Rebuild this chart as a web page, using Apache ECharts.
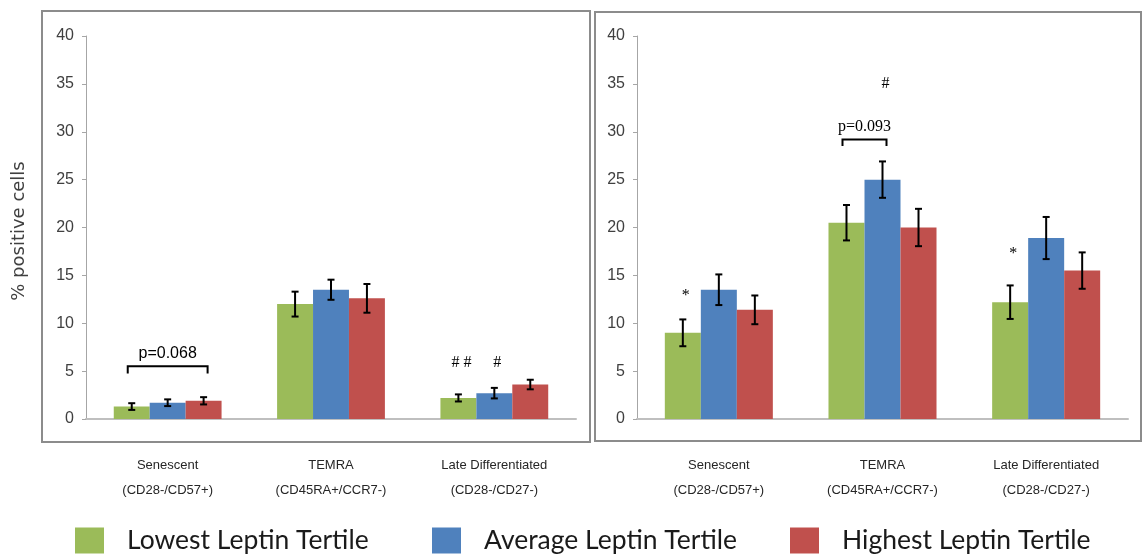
<!DOCTYPE html>
<html>
<head>
<meta charset="utf-8">
<script src="https://cdn.jsdelivr.net/npm/echarts@6/dist/echarts.min.js"></script>
<style>
html,body{margin:0;padding:0;background:#fff;}
#chart{width:1142px;height:556px;}
</style>
</head>
<body>
<div id="chart"></div>
<script>
// ---- data ----
const categories = ['Senescent\n(CD28-/CD57+)', 'TEMRA\n(CD45RA+/CCR7-)', 'Late Differentiated\n(CD28-/CD27-)'];
const seriesNames = ['Lowest Leptin Tertile', 'Average Leptin Tertile', 'Highest Leptin Tertile'];
const yTicks = [0, 5, 10, 15, 20, 25, 30, 35, 40];

// left panel
const leftLowest = [1.3, 12.0, 2.2];
const leftLowestErr = [0.35, 1.3, 0.37];
const leftAverage = [1.7, 13.5, 2.7];
const leftAverageErr = [0.35, 1.05, 0.55];
const leftHighest = [1.9, 12.6, 3.6];
const leftHighestErr = [0.38, 1.5, 0.5];

// right panel
const rightLowest = [9.0, 20.5, 12.2];
const rightLowestErr = [1.4, 1.85, 1.75];
const rightAverage = [13.5, 25.0, 18.9];
const rightAverageErr = [1.6, 1.9, 2.2];
const rightHighest = [11.4, 20.0, 15.5];
const rightHighestErr = [1.5, 1.95, 1.9];

// annotations: [categoryIndex, seriesIndex, y, text]
const leftMarks = [[2, 0, 5.9, '# #'], [2, 1, 5.9, '#']];
const rightMarks = [[0, 0, 12.9, '*'], [2, 0, 17.3, '*'], [1, 1, 35.0, '#']];
// brackets: [categoryIndex, fromSeries, toSeries, topY, legY, labelY, text]
const leftBrackets = [[0, 0, 2, 5.5, 4.75, 6.8, 'p=0.068']];
const rightBrackets = [[1, 0, 1, 29.2, 28.5, 30.5, 'p=0.093']];

// ---- styling ----
const colors = ['#9BBB59', '#4F81BD', '#C0504D'];
const CAT_GAP = 0.34;
const narrow = "'Liberation Sans', sans-serif";

function barOffset(api, s) {
  const band = api.size([1, 0])[0];
  const w = band * (1 - CAT_GAP) / 3;
  return (s - 1) * w;
}

function errRender(params, api) {
  const c = api.value(0), v = api.value(1), e = api.value(2), s = api.value(3);
  const cx = api.coord([c, v])[0] + barOffset(api, s);
  const yt = api.coord([c, v + e])[1];
  const yb = api.coord([c, v - e])[1];
  const cap = 3.5;
  const st = {stroke: '#000', lineWidth: 2};
  return {type: 'group', children: [
    {type: 'line', shape: {x1: cx, y1: yt, x2: cx, y2: yb}, style: st},
    {type: 'line', shape: {x1: cx - cap, y1: yt, x2: cx + cap, y2: yt}, style: st},
    {type: 'line', shape: {x1: cx - cap, y1: yb, x2: cx + cap, y2: yb}, style: st}
  ]};
}

function markSeries(gridIdx, marks, font, size) {
  return {
    type: 'custom', xAxisIndex: gridIdx, yAxisIndex: gridIdx, z: 10, silent: true,
    data: marks.map(m => [m[0], m[1], m[2]]),
    renderItem: function (params, api) {
      const m = marks[params.dataIndex];
      const p = api.coord([m[0], m[2]]);
      return {type: 'text', style: {
        text: m[3], x: p[0] + barOffset(api, m[1]) + 3, y: p[1],
        fill: '#000', fontFamily: font, fontSize: size,
        align: 'center', verticalAlign: 'middle', textAlign: 'center', textVerticalAlign: 'middle'
      }};
    }
  };
}

function bracketSeries(gridIdx, brackets, font, size) {
  return {
    type: 'custom', xAxisIndex: gridIdx, yAxisIndex: gridIdx, z: 10, silent: true,
    data: brackets.map(b => [b[0], b[3]]),
    renderItem: function (params, api) {
      const b = brackets[params.dataIndex];
      const cxp = api.coord([b[0], b[3]])[0];
      const x1 = cxp + barOffset(api, b[1]) - 4;
      const x2 = cxp + barOffset(api, b[2]) + 4;
      const yt = api.coord([b[0], b[3]])[1];
      const yl = api.coord([b[0], b[4]])[1];
      const yLab = api.coord([b[0], b[5]])[1];
      const st = {stroke: '#000', lineWidth: 2, fill: 'none'};
      return {type: 'group', children: [
        {type: 'polyline', shape: {points: [[x1, yl], [x1, yt], [x2, yt], [x2, yl]]}, style: st},
        {type: 'text', style: {
          text: b[6], x: (x1 + x2) / 2, y: yLab, fill: '#000', fontFamily: font, fontSize: size,
          align: 'center', verticalAlign: 'middle', textAlign: 'center', textVerticalAlign: 'middle'
        }}
      ]};
    }
  };
}

function barSeries(gridIdx, name, data, color) {
  return {
    type: 'bar', name: name, xAxisIndex: gridIdx, yAxisIndex: gridIdx,
    data: data, barGap: '0%', barCategoryGap: (CAT_GAP * 100) + '%',
    itemStyle: {color: color}, silent: true
  };
}

function errSeries(gridIdx, vals, errs, s) {
  return {
    type: 'custom', xAxisIndex: gridIdx, yAxisIndex: gridIdx, z: 5, silent: true,
    data: vals.map((v, i) => [i, v, errs[i], s]),
    renderItem: errRender
  };
}

const xAxisBase = {
  type: 'category', data: categories,
  axisLine: {show: true, lineStyle: {color: '#bfbfbf', width: 2}},
  axisTick: {show: false},
  axisLabel: {color: '#262626', fontFamily: narrow, fontSize: 13, lineHeight: 25, margin: 34, interval: 0}
};
const yAxisBase = {
  type: 'value', min: 0, max: yTicks[yTicks.length - 1], interval: yTicks[1] - yTicks[0],
  axisLine: {show: true, lineStyle: {color: '#a6a6a6', width: 1}},
  axisTick: {show: true, length: 4, lineStyle: {color: '#a6a6a6'}},
  splitLine: {show: false},
  axisLabel: {color: '#404040', fontFamily: narrow, fontSize: 16, margin: 12}
};

function legendFor(i, left) {
  return {
    data: [seriesNames[i]], left: left, top: 522, selectedMode: false,
    icon: 'rect', itemWidth: 29, itemHeight: 26,
    textStyle: {fontFamily: 'Lato, sans-serif', fontSize: 26.5, color: '#1a1a1a', padding: [0, 0, 0, 18]}
  };
}

const option = {
  animation: false,
  backgroundColor: '#fff',
  grid: [
    {left: 86, top: 36, width: 490, height: 383},
    {left: 637, top: 36, width: 491, height: 383}
  ],
  xAxis: [Object.assign({gridIndex: 0}, xAxisBase), Object.assign({gridIndex: 1}, xAxisBase)],
  yAxis: [Object.assign({gridIndex: 0}, yAxisBase), Object.assign({gridIndex: 1}, yAxisBase)],
  legend: [legendFor(0, 70), legendFor(1, 427), legendFor(2, 785)],
  graphic: [
    {type: 'rect', shape: {x: 42, y: 11, width: 548, height: 431}, style: {fill: 'none', stroke: '#8c8c8c', lineWidth: 2}, silent: true},
    {type: 'rect', shape: {x: 595, y: 12, width: 546, height: 429}, style: {fill: 'none', stroke: '#8c8c8c', lineWidth: 2}, silent: true},
    {type: 'text', x: 19, y: 231, rotation: Math.PI / 2,
      style: {text: '% positive cells', fontFamily: 'DejaVu Sans', fontSize: 18, fill: '#404040',
        align: 'center', verticalAlign: 'middle', textAlign: 'center', textVerticalAlign: 'middle'}}
  ],
  series: [
    barSeries(0, seriesNames[0], leftLowest, colors[0]),
    barSeries(0, seriesNames[1], leftAverage, colors[1]),
    barSeries(0, seriesNames[2], leftHighest, colors[2]),
    barSeries(1, seriesNames[0], rightLowest, colors[0]),
    barSeries(1, seriesNames[1], rightAverage, colors[1]),
    barSeries(1, seriesNames[2], rightHighest, colors[2]),
    errSeries(0, leftLowest, leftLowestErr, 0),
    errSeries(0, leftAverage, leftAverageErr, 1),
    errSeries(0, leftHighest, leftHighestErr, 2),
    errSeries(1, rightLowest, rightLowestErr, 0),
    errSeries(1, rightAverage, rightAverageErr, 1),
    errSeries(1, rightHighest, rightHighestErr, 2),
    markSeries(0, leftMarks, "'Liberation Serif', serif", 16),
    markSeries(1, rightMarks, "'Liberation Serif', serif", 16),
    bracketSeries(0, leftBrackets, "'Liberation Sans', sans-serif", 16),
    bracketSeries(1, rightBrackets, "'Liberation Serif', serif", 16)
  ]
};

const chart = echarts.init(document.getElementById('chart'), null, {renderer: 'canvas'});
chart.setOption(option);
</script>
</body>
</html>
